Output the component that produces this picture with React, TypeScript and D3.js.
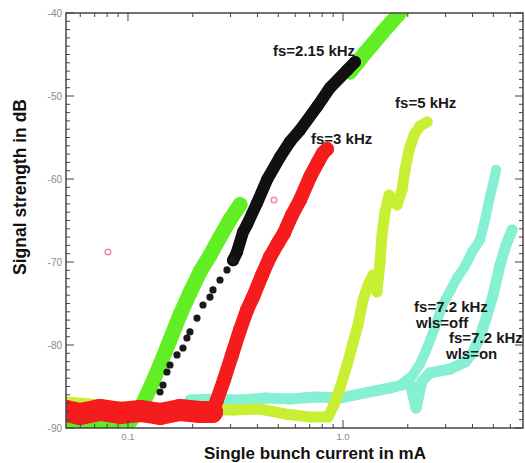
import React from "react";
import * as d3 from "d3";

type Pt = [number, number];

// ---- data (current in mA, signal in dB) ----
const greenFloor: Pt[] = [[0.0515,-89.6],[0.0741,-89.5],[0.1022,-89.3],[0.1137,-88.2]];
const greenLow: Pt[] = [[0.1022,-89.2],[0.1137,-87.8],[0.1266,-85.2],[0.1409,-82.4],[0.1568,-79.4],[0.1745,-76.4],[0.1942,-73.7],[0.2162,-71.2],[0.2406,-69.2],[0.2679,-67.0],[0.2981,-64.9],[0.3318,-63.1]];
const greenHigh: Pt[] = [[1.078,-47.1],[1.174,-45.9],[1.266,-44.8],[1.379,-43.7],[1.518,-42.4],[1.654,-41.3],[1.803,-40.2],[1.881,-39.6]];
const blackDots: Pt[] = [[0.1409,-85.66],[0.1455,-84.82],[0.1518,-83.25],[0.1568,-82.41],[0.169,-81.2],[0.1802,-80.36],[0.188,-79.16],[0.1942,-78.43],[0.2094,-76.75],[0.2233,-75.18],[0.2406,-74.22],[0.2485,-73.37],[0.2679,-72.17],[0.2887,-70.96],[0.3079,-69.76]];
const blackBand: Pt[] = [[0.3079,-69.8],[0.3214,-68.8],[0.3426,-66.4],[0.3577,-65.5],[0.3981,-62.9],[0.4431,-60.1],[0.5093,-57.35],[0.567,-55.5],[0.631,-54.1],[0.7569,-51.3],[0.87,-49.0],[1.044,-46.9],[1.137,-45.9]];
const redFloor: Pt[] = [[0.0515,-87.95],[0.0598,-88.31],[0.0741,-87.83],[0.0918,-88.19],[0.1137,-87.95],[0.1409,-88.31],[0.1745,-87.83],[0.2162,-88.07],[0.2459,-88.07]];
const redRise: Pt[] = [[0.2459,-88.07],[0.2594,-86.63],[0.2796,-84.2],[0.3046,-81.2],[0.3318,-78.19],[0.3577,-75.78],[0.3815,-74.22],[0.42,-71.57],[0.4575,-69.4],[0.4985,-67.71],[0.5315,-66.51],[0.579,-64.34],[0.631,-62.53],[0.7024,-59.76],[0.765,-57.95],[0.8071,-56.87],[0.8424,-56.39]];
const redStray: Pt[] = [[0.0807,-68.8],[0.4776,-62.53]];
const yellow: Pt[] = [[0.0515,-86.87],[0.0666,-87.11],[0.0918,-87.47],[0.1409,-87.71],[0.2162,-87.83],[0.3079,-87.83],[0.4111,-87.71],[0.5373,-88.31],[0.7024,-88.67],[0.8515,-88.67],[0.9082,-87.23],[0.9683,-85.18],[1.044,-82.41],[1.113,-79.76],[1.174,-77.59],[1.239,-74.58],[1.307,-72.77],[1.379,-71.57],[1.439,-73.61],[1.486,-70.0],[1.518,-66.75],[1.568,-63.98],[1.637,-61.93],[1.783,-63.13],[1.881,-61.33],[1.942,-58.92],[2.028,-56.51],[2.14,-54.7],[2.281,-53.61],[2.459,-53.13]];
const cyanOn: Pt[] = [[0.1942,-86.63],[0.2539,-86.51],[0.3318,-86.63],[0.4337,-86.39],[0.567,-86.51],[0.741,-86.27],[0.9683,-86.39],[1.266,-85.78],[1.654,-85.18],[2.05,-84.58],[2.186,-87.59],[2.33,-84.34],[2.54,-83.37],[3.15,-82.89],[3.694,-82.05],[4.024,-80.84],[4.337,-79.04],[4.676,-76.39],[4.986,-73.98],[5.373,-70.36],[5.73,-67.95],[6.11,-66.14]];
const cyanOff: Pt[] = [[1.881,-84.7],[2.094,-83.73],[2.281,-82.29],[2.459,-80.36],[2.679,-77.83],[2.887,-75.3],[3.15,-73.49],[3.391,-71.93],[3.694,-70.48],[3.981,-68.8],[4.337,-67.35],[4.576,-64.94],[4.828,-62.05],[5.038,-60.12],[5.148,-58.92]];

const yTickValues = [-90, -80, -70, -60, -50, -40];
const xTickValues = [0.1, 1];
const xTickLabels = ["0.1", "1.0"];
const annotationTexts = ["fs=2.15 kHz", "fs=5 kHz", "fs=3 kHz", "fs=7.2 kHz", "wls=off", "fs=7.2 kHz", "wls=on"];
const annotationX = [0.4725, 1.746, 0.7099, 2.14, 2.186, 3.112, 3.013];
const annotationY = [-45.18, -51.45, -55.78, -76.02, -77.95, -79.76, -81.69];

const W = 525, H = 463;
const L = 66, R = 523, T = 13, B = 428;

export default function App() {
  const x = d3.scaleLog().domain([0.0515, 6.87]).range([L, R]);
  const y = d3.scaleLinear().domain([-90, -40]).range([B, T]);
  const line = d3.line<Pt>().x(d => x(d[0])).y(d => y(d[1]));

  const bands: { data: Pt[]; color: string; w: number }[] = [
    { data: cyanOn, color: "#86f0d3", w: 11 },
    { data: cyanOff, color: "#86f0d3", w: 10 },
    { data: yellow, color: "#c9ef35", w: 11 },
    { data: greenFloor, color: "#62ea26", w: 10 },
    { data: greenLow, color: "#62ee24", w: 15 },
    { data: greenHigh, color: "#62ee24", w: 15 },
    { data: blackBand, color: "#111", w: 12 },
    { data: redFloor, color: "#f41c1c", w: 22 },
    { data: redRise, color: "#f41c1c", w: 14 },
  ];

  const minorY = d3.range(-90, -39, 1);
  const minorX: number[] = [];
  [0.01, 0.1, 1].forEach(dec => {
    for (let k = 1; k <= 9; k++) {
      const v = dec * k;
      if (v >= 0.0515 && v <= 6.87) minorX.push(v);
    }
  });
  const axisColor = "#444";

  return (
    <svg width={W} height={H} style={{ position: "absolute", left: 0, top: 0, background: "#fff" }}
      fontFamily="'Liberation Sans', Arial, sans-serif">
      <defs>
        <clipPath id="plot"><rect x={L} y={T} width={R - L} height={B - T} /></clipPath>
      </defs>
      <g clipPath="url(#plot)">
        {bands.map((s, i) => (
          <g key={i}>
            <path d={line(s.data) || ""} fill="none" stroke={s.color} strokeWidth={s.w}
              strokeLinecap="round" strokeLinejoin="round" />
            {s.data.map((d, j) => (
              <circle key={j} cx={x(d[0])} cy={y(d[1])} r={s.w / 2} fill={s.color} />
            ))}
          </g>
        ))}
        {blackDots.map((d, j) => (
          <circle key={"b" + j} cx={x(d[0])} cy={y(d[1])} r={3.6} fill="#1a1a1a" />
        ))}
        {redStray.map((d, j) => (
          <circle key={"r" + j} cx={x(d[0])} cy={y(d[1])} r={2.8} fill="none" stroke="#f08a9a" strokeWidth={1.5} />
        ))}
      </g>
      {/* frame */}
      <rect x={L} y={T} width={R - L} height={B - T} fill="none" stroke={axisColor} strokeWidth={1.5} />
      {/* y ticks */}
      {minorY.map(v => {
        const major = v % 10 === 0;
        const len = major ? 8 : 4;
        return (
          <g key={"y" + v}>
            <line x1={L} x2={L + len} y1={y(v)} y2={y(v)} stroke={axisColor} strokeWidth={1} />
            <line x1={R} x2={R - len} y1={y(v)} y2={y(v)} stroke={axisColor} strokeWidth={1} />
          </g>
        );
      })}
      {/* x ticks */}
      {minorX.map(v => {
        const major = Math.abs(Math.log10(v) - Math.round(Math.log10(v))) < 1e-6;
        const len = major ? 8 : 4;
        return (
          <g key={"x" + v}>
            <line x1={x(v)} x2={x(v)} y1={B} y2={B - len} stroke={axisColor} strokeWidth={1} />
            <line x1={x(v)} x2={x(v)} y1={T} y2={T + len} stroke={axisColor} strokeWidth={1} />
          </g>
        );
      })}
      {yTickValues.map(v => (
        <text key={"yl" + v} x={L - 4} y={y(v)} dy="0.35em" textAnchor="end" fontSize={10} fill="#8a8a8a">{String(v)}</text>
      ))}
      {xTickValues.map((v, i) => (
        <text key={"xl" + v} x={x(v)} y={437} dy="0.35em" textAnchor="middle" fontSize={9.5} fill="#8a8a8a">{xTickLabels[i]}</text>
      ))}
      {annotationTexts.map((t, i) => (
        <text key={"a" + i} x={x(annotationX[i])} y={y(annotationY[i])} fontSize={15} fontWeight="bold" fill="#1a1a1a">{t}</text>
      ))}
      <text x={315} y={459} textAnchor="middle" fontSize={17} fontWeight="bold" fill="#111">Single bunch current in mA</text>
      <text transform="translate(26,187) rotate(-90)" textAnchor="middle" fontSize={17.5} fontWeight="bold" fill="#111">Signal strength in dB</text>
    </svg>
  );
}
